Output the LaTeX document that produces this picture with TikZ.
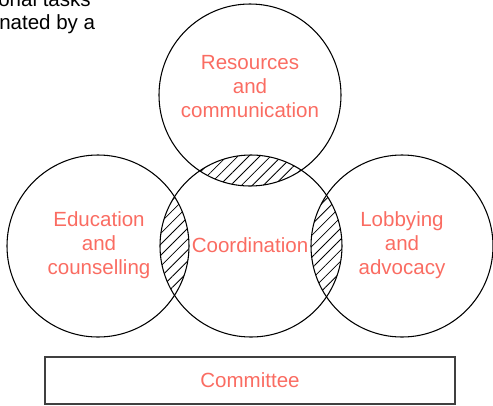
\documentclass[tikz,border=0pt]{standalone}
\usepackage{fontspec}
\setmainfont{Liberation Sans}
\usetikzlibrary{patterns.meta}
\definecolor{salmon}{RGB}{250,108,98}

\begin{document}
\begin{tikzpicture}[x=0.75pt,y=-0.75pt,
    ring/.style={draw,circle,line width=0.8pt,minimum size=136.5pt,inner sep=0pt},
    lbl/.style={text=salmon,align=center,font=\fontsize{15.4}{18}\selectfont},
    note/.style={anchor=base west,inner sep=0pt,font=\fontsize{15.4}{18}\selectfont},
    hatch/.style={pattern={Lines[angle=45,distance=5.8pt,line width=0.6pt]}}]
  \useasboundingbox (0,0) rectangle (493,405);
  \clip (0,0) rectangle (493,405);

  % centres of the four circles
  \coordinate (c-res) at (250,95);
  \coordinate (c-edu) at (98,246);
  \coordinate (c-coord) at (251,246);
  \coordinate (c-lob) at (402,246);

  % overlaps with the coordination circle
  \begin{scope}
    \clip (c-coord) circle (68.25pt);
    \foreach \c in {res,edu,lob} {\fill[hatch] (c-\c) circle (68.25pt);};
  \end{scope}

  \foreach \c in {res,edu,coord,lob} {\node[ring] (\c) at (c-\c) {};};

  \node[lbl] (res-txt) at (250,87) {Resources\\and\\communication};
  \node[lbl] (edu-txt) at (99,245) {Education\\and\\counselling};
  \node[lbl] (coord-txt) at (250,245) {Coordination};
  \node[lbl] (lob-txt) at (402,245) {Lobbying\\and\\advocacy};

  \node[draw=black!75,line width=0.8pt,minimum width=307.5pt,minimum height=35.25pt,
        lbl] (cmt) at (250,380.5) {Committee};

  % text running in from the left edge
  \node[note] (note-a) at (-2,6.5) {onal tasks};
  \node[note] (note-b) at (-1,29.3) {nated by a};
\end{tikzpicture}
\end{document}
